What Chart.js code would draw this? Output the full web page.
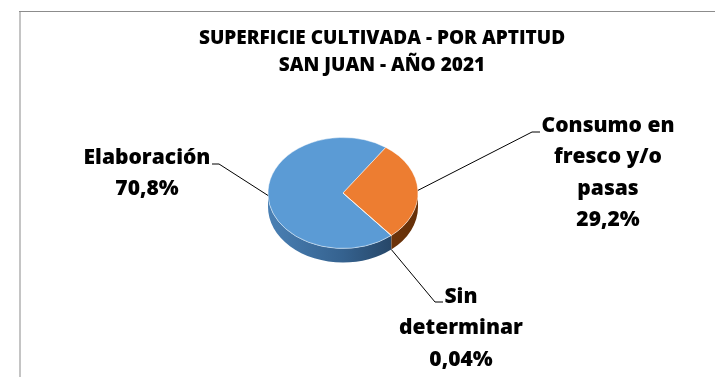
<!DOCTYPE html>
<html>
<head>
<meta charset="utf-8">
<script src="https://cdn.jsdelivr.net/npm/chart.js@4"></script>
<style>
  html, body { margin: 0; padding: 0; background: #fff; }
  #wrap { width: 715px; height: 377px; position: relative; }
</style>
</head>
<body>
<div id="wrap"><canvas id="aptitudChart"></canvas></div>
<script>
// Superficie cultivada por aptitud (%)
const labels = ['Elaboración', 'Consumo en fresco y/o pasas', 'Sin determinar'];
const shares = [70.8, 29.2, 0.04];
const nameLines = [['Elaboración'], ['Consumo en', 'fresco y/o', 'pasas'], ['Sin', 'determinar']];
const titleLines = ['SUPERFICIE CULTIVADA - POR APTITUD', 'SAN JUAN - AÑO 2021'];

const topColors = ['#5B9BD5', '#ED7D31', '#A5A5A5'];
const sideColors = [['#4a80b4', '#35628f', '#1f3853'], ['#8e4614', '#7a3a0e', '#653008'], ['#777', '#666', '#555']];
const tilt = 0.74;
const depth = 14;

// where each data label sits and how its leader line bends
const labelBoxes = [
    { cx: 147, cy: 158, elbow: [219, 164], end: [212, 164], drop: 0 },
    { cx: 608, cy: 126, elbow: [532, 132], end: [540, 132], drop: 0 },
    { cx: 461, cy: 297, elbow: [435, 302], end: [443, 302], drop: depth }
];

const pct = v => String(v).replace('.', ',') + '%';

function frontSpans(s, e) {
    const out = [];
    for (let k = -2; k <= 2; k++) {
        const lo = Math.max(s, 2 * Math.PI * k);
        const hi = Math.min(e, 2 * Math.PI * k + Math.PI);
        if (hi > lo) out.push([lo - 2 * Math.PI * k, hi - 2 * Math.PI * k]);
    }
    return out;
}

const frame = {
    id: 'frame',
    beforeDraw(chart) {
        const ctx = chart.ctx;
        ctx.save();
        ctx.fillStyle = '#fff';
        ctx.fillRect(0, 0, chart.width, chart.height);
        ctx.strokeStyle = '#c4c4c4';
        ctx.lineWidth = 2;
        ctx.beginPath();
        ctx.moveTo(20, 12);
        ctx.lineTo(20, chart.height);
        ctx.stroke();
        ctx.strokeStyle = '#8c8c8c';
        ctx.lineWidth = 1;
        ctx.beginPath();
        ctx.moveTo(19, 11.5);
        ctx.lineTo(chart.width, 11.5);
        ctx.stroke();

        ctx.fillStyle = '#000';
        ctx.font = '800 19px "Open Sans"';
        ctx.textAlign = 'center';
        ctx.textBaseline = 'middle';
        titleLines.forEach((t, i) => ctx.fillText(t, 382, 39 + i * 27));
        ctx.restore();
    }
};

// squashes the pie into an ellipse and adds a side wall underneath
const pie3d = {
    id: 'pie3d',
    beforeDatasetsDraw(chart) {
        const ctx = chart.ctx;
        const arcs = chart.getDatasetMeta(0).data;
        const { x, y, outerRadius: r } = arcs[0];
        ctx.save();
        arcs.forEach((arc, i) => {
            frontSpans(arc.startAngle, arc.endAngle).forEach(([a, b]) => {
                const g = ctx.createLinearGradient(x - r, 0, x + r, 0);
                g.addColorStop(0, sideColors[i][0]);
                g.addColorStop(0.5, sideColors[i][1]);
                g.addColorStop(1, sideColors[i][2]);
                ctx.fillStyle = g;
                ctx.beginPath();
                ctx.ellipse(x, y, r, r * tilt, 0, a, b);
                ctx.ellipse(x, y + depth, r, r * tilt, 0, b, a, true);
                ctx.closePath();
                ctx.fill();
            });
        });
        ctx.restore();
        ctx.save();
        ctx.translate(x, y);
        ctx.scale(1, tilt);
        ctx.translate(-x, -y);
    },
    afterDatasetsDraw(chart) {
        chart.ctx.restore();
    }
};

const dataLabels = {
    id: 'dataLabels',
    afterDraw(chart) {
        const ctx = chart.ctx;
        const arcs = chart.getDatasetMeta(0).data;
        ctx.save();
        arcs.forEach((arc, i) => {
            const box = labelBoxes[i];
            const mid = (arc.startAngle + arc.endAngle) / 2;
            const ax = arc.x + arc.outerRadius * Math.cos(mid);
            const ay = arc.y + arc.outerRadius * tilt * Math.sin(mid) + box.drop;
            ctx.strokeStyle = '#000';
            ctx.lineWidth = 1;
            ctx.beginPath();
            ctx.moveTo(ax, ay);
            ctx.lineTo(box.elbow[0], box.elbow[1]);
            ctx.lineTo(box.end[0], box.end[1]);
            ctx.stroke();

            const lines = nameLines[i].concat([pct(shares[i])]);
            ctx.fillStyle = '#000';
            ctx.font = '800 21px "Open Sans"';
            ctx.textAlign = 'center';
            ctx.textBaseline = 'middle';
            lines.forEach((t, j) => ctx.fillText(t, box.cx, box.cy + j * 31.5));
        });
        ctx.restore();
    }
};

new Chart(document.getElementById('aptitudChart'), {
    type: 'pie',
    data: {
        labels: labels,
        datasets: [{
            data: shares,
            backgroundColor: topColors,
            borderColor: 'rgba(255,255,255,0.55)',
            borderWidth: 1,
            radius: 75,
            clip: false
        }]
    },
    options: {
        responsive: true,
        maintainAspectRatio: false,
        animation: false,
        events: [],
        rotation: 140,
        layout: { padding: { left: 243, right: 272, top: 93, bottom: 84 } },
        plugins: {
            legend: { display: false },
            tooltip: { enabled: false },
            title: { display: false }
        }
    },
    plugins: [frame, pie3d, dataLabels]
});
</script>
</body>
</html>
